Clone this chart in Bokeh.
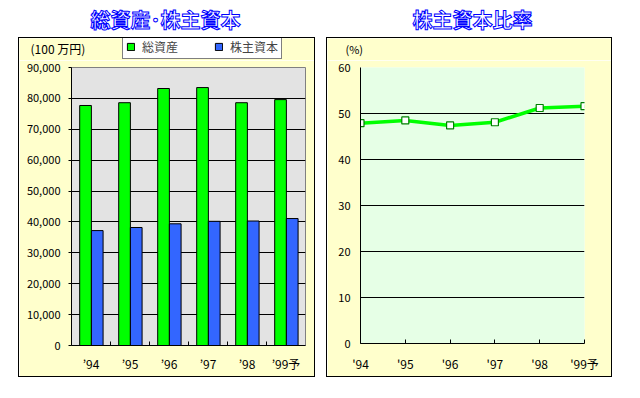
from bokeh.plotting import figure
from bokeh.models import Range1d, FixedTicker, Legend, LegendItem, NumeralTickFormatter
from bokeh.layouts import row, column
from bokeh.embed import file_html
from bokeh.resources import INLINE
from bokeh.core.properties import value

# ---- data ----
years_left = ["’94", "’95", "’96", "’97", "’98", "’99予"]
years_right = ["'94", "'95", "'96", "'97", "'98", "'99予"]
total_assets = [77700, 78600, 83200, 83500, 78600, 79600]   # 総資産 (100万円)
equity = [37200, 38200, 39400, 40200, 40300, 41100]          # 株主資本 (100万円)
equity_ratio = [47.9, 48.5, 47.4, 48.1, 51.2, 51.6]          # 株主資本比率 (%)
left_y_ticks = list(range(0, 90001, 10000))
right_y_ticks = list(range(0, 61, 10))
series_names = ["総資産", "株主資本"]
series_colors = ["#00FF00", "#3366FF"]

FONT = "Noto Sans CJK JP"
YELLOW = "#FFFFCC"
HEADER_H = 22
TOP_PAD = 7


def bare(fig):
    fig.grid.visible = False
    return fig


COMMON = dict(output_backend="svg", toolbar_location=None, frame_align=False)

# ---- titles ----
pt = bare(figure(width=632, height=37, x_range=Range1d(0, 632), y_range=Range1d(0, 37),
                 min_border=0, x_axis_location=None, y_axis_location=None,
                 background_fill_color="white", border_fill_color="white",
                 outline_line_color=None, **COMMON))
pt.text(x=[165, 472], y=[18, 18], text=["総資産･株主資本", "株主資本比率"],
        text_align="center", text_baseline="middle", text_font=value(FONT),
        text_font_style="bold", text_font_size="20px", text_color="white",
        text_outline_color="#0000FF")

# ---- left: header with unit label and legend ----
n = len(years_left)
centers = [i + 0.5 for i in range(n)]
hl = bare(figure(width=295, height=HEADER_H, x_range=Range1d(0, 295), y_range=Range1d(0, HEADER_H),
                 min_border=0, x_axis_location=None, y_axis_location=None,
                 background_fill_color=YELLOW, border_fill_color=YELLOW,
                 outline_line_color=None, **COMMON))
hl.text(x=[11], y=[HEADER_H - 10], text=["(100 万円)"], text_align="left", text_baseline="middle",
        text_font=value(FONT), text_font_size="12px", text_color="black")
# hidden copies of the bar series, only used as legend swatches
swatches = [hl.vbar(x=centers, top=vals, width=0.3, fill_color=c, line_color="black", visible=False)
            for vals, c in zip([total_assets, equity], series_colors)]
legend = Legend(items=[LegendItem(label=nm, renderers=[r]) for nm, r in zip(series_names, swatches)],
                location=(103, 1), orientation="horizontal",
                label_text_font=FONT, label_text_font_size="12px", label_height=13,
                glyph_width=9, glyph_height=9, label_standoff=7, spacing=36,
                padding=3, margin=0, border_line_color="black", border_line_width=1,
                background_fill_color="white", background_fill_alpha=1,
                inactive_fill_alpha=0)
hl.add_layout(legend)

# ---- left: bars ----
pl = figure(width=295, height=338 - HEADER_H, x_range=Range1d(0, n),
            y_range=Range1d(0, left_y_ticks[-1]),
            min_border_left=52, min_border_right=9, min_border_top=TOP_PAD, min_border_bottom=31,
            background_fill_color="#E3E3E3", border_fill_color=YELLOW,
            outline_line_color="#808080", **COMMON)
pl.vbar(x=[c - 0.14 for c in centers], top=total_assets, width=0.3,
        fill_color=series_colors[0], line_color="black", line_width=1)
pl.vbar(x=[c + 0.16 for c in centers], top=equity, width=0.3,
        fill_color=series_colors[1], line_color="black", line_width=1)
pl.xaxis.ticker = FixedTicker(ticks=centers, minor_ticks=list(range(1, n)))
pl.xaxis.major_label_overrides = {c: lab for c, lab in zip(centers, years_left)}
pl.xaxis.major_tick_in = 0
pl.xaxis.major_tick_out = 0
pl.xaxis.minor_tick_in = 4
pl.xaxis.minor_tick_out = 0
pl.xaxis.major_label_standoff = 9
pl.yaxis.ticker = FixedTicker(ticks=left_y_ticks)
pl.yaxis.formatter = NumeralTickFormatter(format="0,0")
pl.yaxis.major_tick_in = 0
pl.yaxis.major_tick_out = 3
pl.yaxis.minor_tick_line_color = None
pl.yaxis.major_label_standoff = 8
pl.xgrid.visible = False
pl.ygrid.ticker = FixedTicker(ticks=left_y_ticks[1:-1])
pl.ygrid.grid_line_color = "black"
for ax in (pl.xaxis, pl.yaxis):
    ax.axis_line_color = "black"
    ax.major_label_text_font = FONT
    ax.major_label_text_font_size = "11px"
    ax.major_label_text_color = "black"
pl.xaxis.major_label_text_font_size = "12px"

# ---- right: header ----
hr = bare(figure(width=284, height=HEADER_H, x_range=Range1d(0, 284), y_range=Range1d(0, HEADER_H),
                 min_border=0, x_axis_location=None, y_axis_location=None,
                 background_fill_color=YELLOW, border_fill_color=YELLOW,
                 outline_line_color=None, **COMMON))
hr.text(x=[18], y=[HEADER_H - 10], text=["(%)"], text_align="left", text_baseline="middle",
        text_font=value(FONT), text_font_size="11px", text_color="black")

# ---- right: line ----
xs = list(range(n))
pr = figure(width=284, height=338 - HEADER_H, x_range=Range1d(0, n - 1),
            y_range=Range1d(0, right_y_ticks[-1]),
            min_border_left=33, min_border_right=27, min_border_top=TOP_PAD, min_border_bottom=33,
            background_fill_color="#E6FFE6", border_fill_color=YELLOW,
            outline_line_color=None, **COMMON)
pr.line(x=xs, y=equity_ratio, line_color="#00FF00", line_width=3.5)
pr.scatter(x=xs, y=equity_ratio, marker="square", size=7, fill_color="white",
           line_color="#008000", line_width=1.2)
pr.xaxis.ticker = FixedTicker(ticks=xs)
pr.xaxis.major_label_overrides = {x: lab for x, lab in zip(xs, years_right)}
pr.xaxis.major_tick_in = 4
pr.xaxis.major_tick_out = 0
pr.xaxis.minor_tick_line_color = None
pr.xaxis.major_label_standoff = 11
pr.yaxis.ticker = FixedTicker(ticks=right_y_ticks)
pr.yaxis.major_tick_in = 0
pr.yaxis.major_tick_out = 0
pr.yaxis.minor_tick_line_color = None
pr.yaxis.major_label_standoff = 10
pr.xgrid.visible = False
pr.ygrid.ticker = FixedTicker(ticks=right_y_ticks[1:])
pr.ygrid.grid_line_color = "black"
for ax in (pr.xaxis, pr.yaxis):
    ax.axis_line_color = "black"
    ax.major_label_text_font = FONT
    ax.major_label_text_font_size = "12px"
    ax.major_label_text_color = "black"
pr.yaxis.major_label_text_font_size = "11px"

BORDER = {"border": "1px solid black"}
left_panel = column(hl, pl, styles=BORDER, margin=(0, 0, 0, 10))
right_panel = column(hr, pr, styles=BORDER, margin=(0, 0, 0, 11))
layout = column(pt, row(left_panel, right_panel, margin=(0, 0, 0, 8)))
open("out.html", "w").write(file_html(layout, INLINE))
